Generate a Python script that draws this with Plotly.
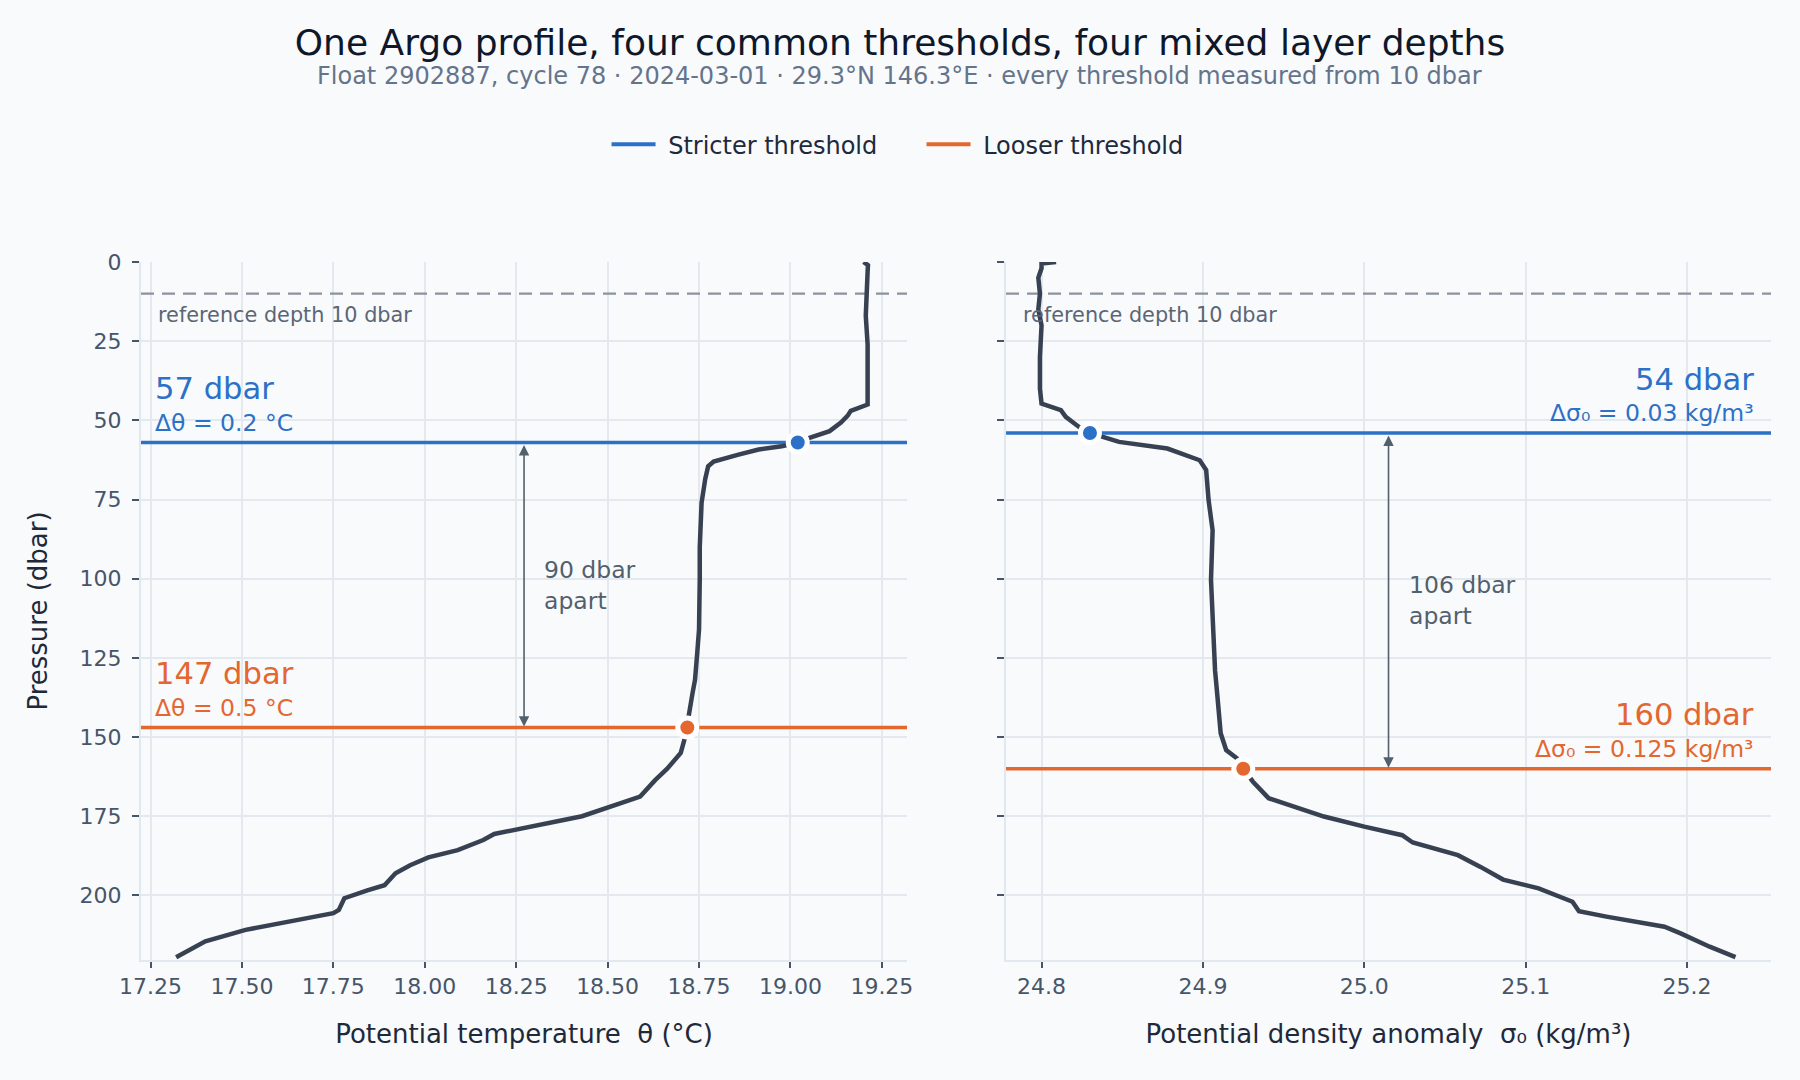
import numpy as np
import plotly.graph_objects as go

# ---------------- data ----------------
pres_theta = [0, 1, 3, 10, 17, 26, 35, 41, 45, 47, 48.6, 50.7, 53.4, 55.5, 57, 58.2, 59.2, 60.8,
              63, 64.5, 68.5, 76, 82, 90, 100, 111, 116, 123.6, 132, 136.3, 141.6, 147, 150, 155,
              160, 163.6, 168.8, 175, 180.6, 182.5, 185.7, 188, 190.5, 193, 195, 196.8, 198.4,
              200.9, 204.6, 205.6, 206.7, 210.9, 214.5, 219.5]
theta = [19.200, 19.212, 19.211, 19.208, 19.206, 19.211, 19.211, 19.211, 19.211, 19.165, 19.156,
         19.138, 19.107, 19.052, 19.020, 18.976, 18.913, 18.858, 18.790, 18.775, 18.767, 18.757,
         18.754, 18.752, 18.752, 18.752, 18.750, 18.745, 18.739, 18.732, 18.725, 18.718, 18.712,
         18.700, 18.663, 18.630, 18.589, 18.430, 18.190, 18.160, 18.090, 18.010, 17.960, 17.920,
         17.906, 17.890, 17.843, 17.780, 17.765, 17.750, 17.700, 17.510, 17.400, 17.320]

pres_sigma = [0, 0.5, 2, 5, 10, 15, 20, 30, 40, 44.7, 46.8, 48.9, 52, 54, 56.8, 58.9, 62.6, 65.7,
              75.2, 84.7, 100.4, 113, 128.9, 137.3, 148.8, 154.1, 156.7, 160, 164.1, 169.3, 173,
              175.1, 178.3, 181, 183.3, 185.7, 187.3, 191, 195, 197.8, 202, 205, 206.7, 209.9,
              212, 216.2, 219.5]
sigma = [24.809, 24.800, 24.800, 24.798, 24.799, 24.798, 24.800, 24.799, 24.799, 24.800, 24.812,
         24.815, 24.823, 24.830, 24.848, 24.878, 24.898, 24.902, 24.9035, 24.906, 24.905, 24.906,
         24.9075, 24.909, 24.911, 24.9144, 24.921, 24.925, 24.931, 24.9407, 24.964, 24.975,
         25.000, 25.0235, 25.030, 25.047, 25.058, 25.072, 25.086, 25.108, 25.129, 25.133,
         25.150, 25.186, 25.196, 25.214, 25.230]

ref_depth = 10
mld_theta = [57, 147]          # stricter, looser
dtheta = [0.2, 0.5]
mld_sigma = [54, 160]
dsigma = [0.03, 0.125]
legend_names = ["Stricter threshold", "Looser threshold"]

theta_ticks = [17.25, 17.50, 17.75, 18.00, 18.25, 18.50, 18.75, 19.00, 19.25]
sigma_ticks = [24.8, 24.9, 25.0, 25.1, 25.2]
pres_ticks = [0, 25, 50, 75, 100, 125, 150, 175, 200]

THETA_RANGE = [17.224, 19.319]
SIGMA_RANGE = [24.778, 25.252]
PRES_RANGE = [220.4, 0]

# ---------------- style ----------------
FONT = "DejaVu Sans"
BG = "#f8fafc"
GRID = "#e4e9ef"
AXLINE = "#e2e8f0"
TICKC = "#475569"
PROFILE = "#374151"
COLORS = ["#2c71c8", "#e3672f"]
NOTE = "#52606d"

fig = go.Figure()

# reference-depth dashed lines and threshold lines (drawn first, under the profile)
for xs, ax, ay in [(THETA_RANGE, "x", "y"), (SIGMA_RANGE, "x2", "y2")]:
    fig.add_trace(go.Scatter(x=xs, y=[ref_depth, ref_depth], mode="lines",
                             line=dict(color="#8a939e", width=2.2, dash="13px,8px"),
                             showlegend=False, xaxis=ax, yaxis=ay, hoverinfo="skip"))
for i in range(2):
    fig.add_trace(go.Scatter(x=THETA_RANGE, y=[mld_theta[i]] * 2, mode="lines",
                             line=dict(color=COLORS[i], width=3.5), showlegend=False,
                             xaxis="x", yaxis="y", hoverinfo="skip"))
    fig.add_trace(go.Scatter(x=SIGMA_RANGE, y=[mld_sigma[i]] * 2, mode="lines",
                             line=dict(color=COLORS[i], width=3.5), showlegend=False,
                             xaxis="x2", yaxis="y2", hoverinfo="skip"))

# profiles
fig.add_trace(go.Scatter(x=theta, y=pres_theta, mode="lines",
                         line=dict(color=PROFILE, width=4.5), showlegend=False,
                         xaxis="x", yaxis="y", hoverinfo="skip"))
fig.add_trace(go.Scatter(x=sigma, y=pres_sigma, mode="lines",
                         line=dict(color=PROFILE, width=4.5), showlegend=False,
                         xaxis="x2", yaxis="y2", hoverinfo="skip"))

# MLD dots
for i in range(2):
    tx = float(np.interp(mld_theta[i], pres_theta, theta))
    sx = float(np.interp(mld_sigma[i], pres_sigma, sigma))
    fig.add_trace(go.Scatter(x=[tx], y=[mld_theta[i]], mode="markers",
                             marker=dict(color=COLORS[i], size=19, line=dict(color="white", width=5)),
                             showlegend=False, xaxis="x", yaxis="y", hoverinfo="skip"))
    fig.add_trace(go.Scatter(x=[sx], y=[mld_sigma[i]], mode="markers",
                             marker=dict(color=COLORS[i], size=19, line=dict(color="white", width=5)),
                             showlegend=False, xaxis="x2", yaxis="y2", hoverinfo="skip"))

# legend entries
for i in range(2):
    fig.add_trace(go.Scatter(x=[None], y=[None], mode="lines", name="\u00a0" + legend_names[i],
                             line=dict(color=COLORS[i], width=4), xaxis="x", yaxis="y"))

annotations = []
for xr, yr in [("x domain", "y"), ("x2 domain", "y2")]:
    annotations.append(dict(xref=xr, yref=yr, x=0.02, y=ref_depth, xanchor="left", yanchor="middle",
                            yshift=-21, text="reference depth 10 dbar", showarrow=False,
                            font=dict(family=FONT, size=20.8, color="#5b6675")))

def panel(xr, yr, mlds, deltas, fmt, side):
    for i in range(2):
        if side == "left":
            xpos, xa = 0.016, "left"
        else:
            xpos, xa = 0.98, "right"
        annotations.append(dict(xref=xr, yref=yr, x=xpos, y=mlds[i], xanchor=xa, yanchor="middle",
                                yshift=54, text=f"{mlds[i]} dbar", showarrow=False,
                                font=dict(family=FONT, size=30.6, color=COLORS[i])))
        annotations.append(dict(xref=xr, yref=yr, x=xpos, y=mlds[i], xanchor=xa, yanchor="middle",
                                yshift=20, text=fmt.format(deltas[i]), showarrow=False,
                                font=dict(family=FONT, size=23.5, color=COLORS[i])))
    # separation arrow
    annotations.append(dict(xref=xr, yref=yr, x=0.5, y=mlds[1], axref=xr, ayref=yr, ax=0.5, ay=mlds[0],
                            text="", showarrow=True, arrowside="end+start", arrowhead=2,
                            startarrowhead=2, arrowsize=1.3, startarrowsize=1.3, arrowwidth=1.6,
                            arrowcolor=NOTE, standoff=1, startstandoff=1))
    annotations.append(dict(xref=xr, yref=yr, x=0.5, y=(mlds[0] + mlds[1]) / 2, xanchor="left",
                            yanchor="middle", xshift=18, align="left",
                            text=f"{mlds[1] - mlds[0]} dbar<br>apart", showarrow=False,
                            font=dict(family=FONT, size=23.5, color=NOTE)))

panel("x domain", "y", mld_theta, dtheta, "Δθ = {} °C", "left")
panel("x2 domain", "y2", mld_sigma, dsigma, "Δσ₀ = {} kg/m³", "right")

# subtitle
annotations.append(dict(xref="paper", yref="paper", x=0.4656, y=1.2668, xanchor="center", yanchor="middle",
                        text="Float 2902887, cycle 78 · 2024-03-01 · 29.3°N 146.3°E · every threshold measured from 10 dbar",
                        showarrow=False, font=dict(family=FONT, size=24, color="#64748b")))

axis_common = dict(showgrid=True, gridcolor=GRID, gridwidth=1.5, zeroline=False,
                   showline=True, linecolor=AXLINE, linewidth=2,
                   ticks="outside", tickcolor=TICKC, tickwidth=1.5,
                   tickfont=dict(family=FONT, size=22, color=TICKC))

fig.update_layout(
    width=1800, height=1080,
    paper_bgcolor=BG, plot_bgcolor=BG,
    margin=dict(l=141, r=29, t=262, b=120),
    title=dict(text="One Argo profile, four common thresholds, four mixed layer depths",
               x=0.5, xref="container", xanchor="center", y=1 - 42.5 / 1080, yref="container",
               yanchor="middle", font=dict(family=FONT, size=36, color="#0f172a")),
    legend=dict(orientation="h", x=0.2856, xanchor="left", y=1.168, yanchor="middle",
                font=dict(family=FONT, size=24, color="#1e293b"), bgcolor="rgba(0,0,0,0)",
                itemwidth=44, entrywidth=256, entrywidthmode="pixels", tracegroupgap=0),
    xaxis=dict(domain=[0, 0.470], range=THETA_RANGE, tickvals=theta_ticks,
               ticktext=[f"{v:.2f}" for v in theta_ticks], ticklen=6,
               title=dict(text="Potential temperature  θ (°C)", standoff=26,
                          font=dict(family=FONT, size=26, color="#1e293b")),
               **axis_common),
    xaxis2=dict(domain=[0.5307, 1], range=SIGMA_RANGE, tickvals=sigma_ticks,
                ticktext=[f"{v:.1f}" for v in sigma_ticks], ticklen=6,
                title=dict(text="Potential density anomaly  σ₀ (kg/m³)", standoff=26,
                           font=dict(family=FONT, size=26, color="#1e293b")),
                anchor="y2", **axis_common),
    yaxis=dict(range=PRES_RANGE, tickvals=pres_ticks, ticklen=7, ticklabelstandoff=6,
               title=dict(text="Pressure (dbar)", standoff=24,
                          font=dict(family=FONT, size=26, color="#1e293b")),
               **axis_common),
    yaxis2=dict(range=PRES_RANGE, tickvals=pres_ticks, ticklen=7, matches="y", anchor="x2",
                showticklabels=False, **axis_common),
    annotations=annotations,
    font=dict(family=FONT),
)

fig.write_html("out.html", config={"displayModeBar": False},
               post_script="document.body.style.margin='0';document.body.style.background='#f8fafc';")
